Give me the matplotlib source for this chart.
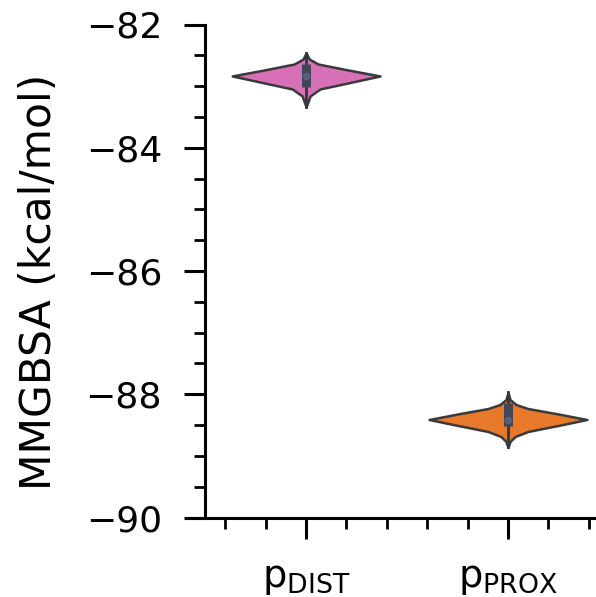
import matplotlib
matplotlib.use("Agg")
import matplotlib.pyplot as plt
from matplotlib.ticker import MultipleLocator, FixedLocator

# category labels and colours
categories = [r"p$_{\mathregular{DIST}}$", r"p$_{\mathregular{PROX}}$"]
colors = ["#d870b8", "#e8782a"]

# violin outlines: energy (kcal/mol) and density half-width at that energy
dist_energy = [-82.462, -82.559, -82.641, -82.738, -82.835, -82.948, -83.046, -83.159, -83.337]
dist_halfwidth = [0.0, 0.015, 0.059, 0.208, 0.366, 0.208, 0.069, 0.020, 0.0]
prox_energy = [-87.972, -88.086, -88.167, -88.232, -88.313, -88.410, -88.507,
               -88.604, -88.686, -88.767, -88.864]
prox_halfwidth = [0.0, 0.010, 0.040, 0.099, 0.238, 0.391, 0.248, 0.099, 0.035, 0.010, 0.0]

# box summaries: lower whisker, q1, median, q3, upper whisker
dist_box = [-83.337, -83.013, -82.835, -82.640, -82.462]
prox_box = [-88.864, -88.522, -88.410, -88.149, -87.956]

outlines = [(dist_energy, dist_halfwidth), (prox_energy, prox_halfwidth)]
boxes = [dist_box, prox_box]

fig = plt.figure(figsize=(5.96, 5.97), dpi=100)
ax = fig.add_axes([187 / 596, 79.5 / 597, 409 / 596, 493 / 597])

edge = "#3a3a3a"
for i, ((energy, half), box, col) in enumerate(zip(outlines, boxes, colors)):
    left = [i - w for w in half]
    right = [i + w for w in half]
    ax.fill_betweenx(energy, left, right, facecolor=col, edgecolor=edge,
                     linewidth=1.8, zorder=2)
    lo, q1, med, q3, hi = box
    ax.plot([i, i], [lo, hi], color="#33373f", linewidth=2.0, zorder=3)
    ax.plot([i, i], [q1, q3], color="#404757", linewidth=6.5,
            solid_capstyle="butt", zorder=4)
    ax.plot([i], [med], marker="o", markersize=4.5, color="#56627a", zorder=5)

ax.set_xlim(-0.59, 1.436)
ax.set_ylim(-90, -82)

for side in ("top", "right"):
    ax.spines[side].set_visible(False)
ax.spines["left"].set_position(("data", -0.5))
for side in ("left", "bottom"):
    ax.spines[side].set_linewidth(2.2)
    ax.spines[side].set_color("black")

ax.xaxis.set_major_locator(FixedLocator([0, 1]))
ax.set_xticklabels(categories)
ax.xaxis.set_minor_locator(MultipleLocator(0.2))
ax.yaxis.set_major_locator(MultipleLocator(2))
ax.yaxis.set_minor_locator(MultipleLocator(0.5))

ax.tick_params(which="major", length=15, width=2.2, pad=16)
ax.tick_params(which="minor", length=8, width=2.0)
ax.tick_params(axis="y", which="major", labelsize=26)
ax.tick_params(axis="x", which="major", labelsize=27.5)

ax.set_ylabel("MMGBSA (kcal/mol)", fontsize=30.5)
ax.yaxis.set_label_coords(-0.31, 0.478)

fig.savefig("out.png", dpi=100)
